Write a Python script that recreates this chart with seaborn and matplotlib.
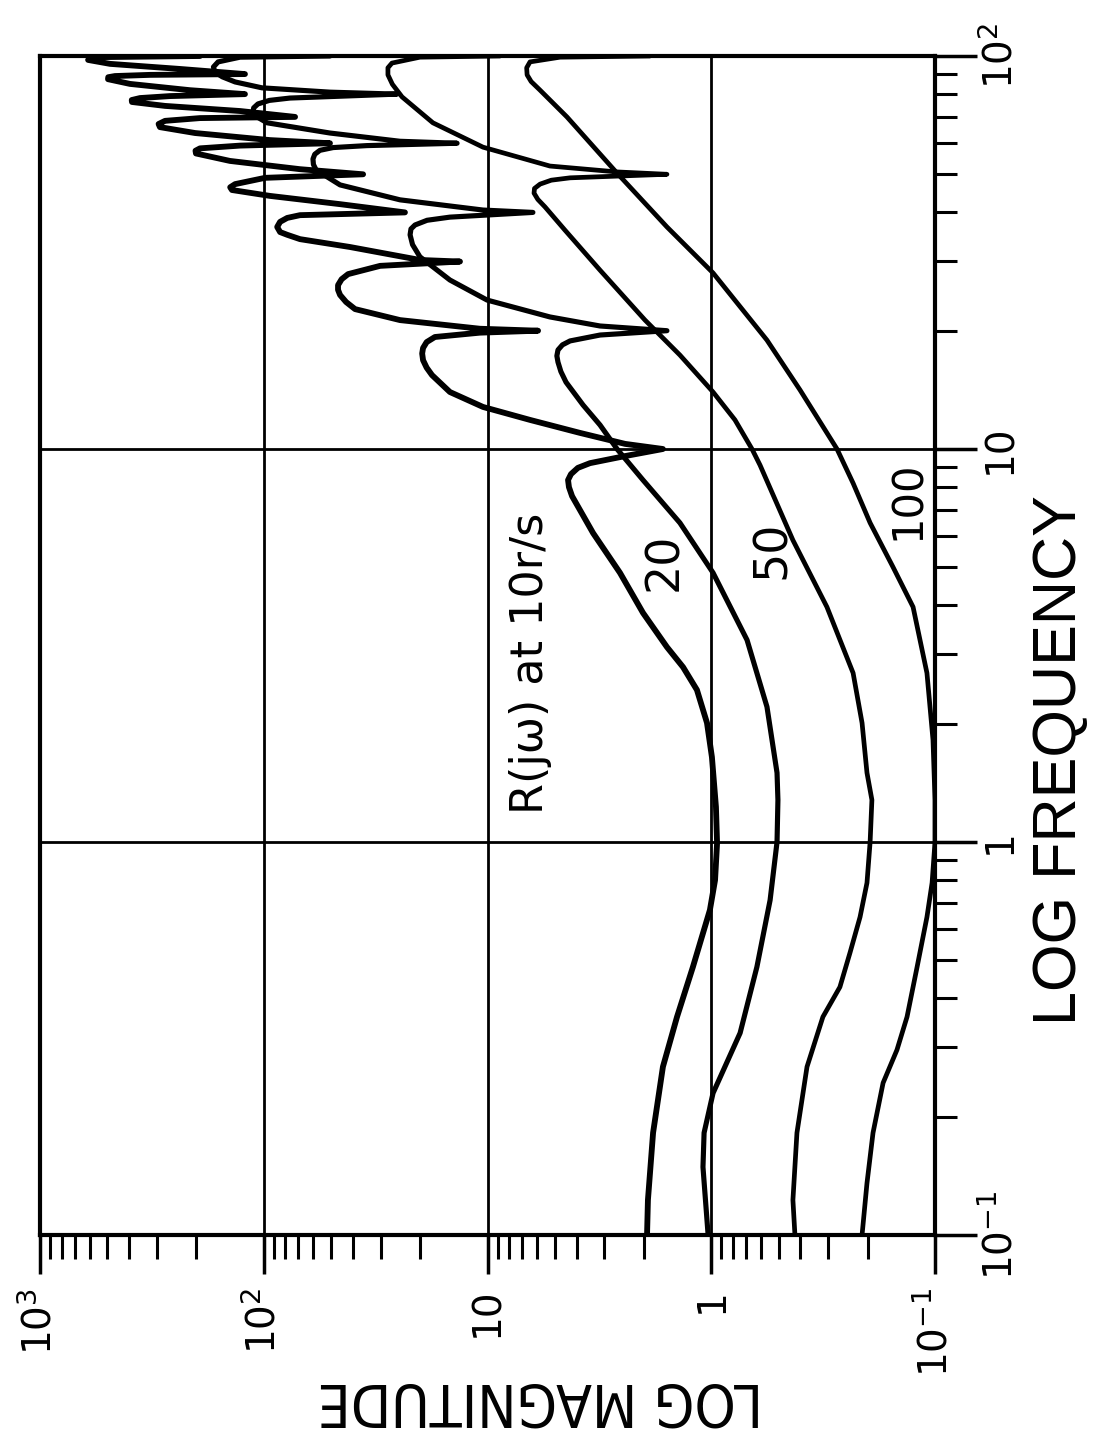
import numpy as np
import pandas as pd
import matplotlib
matplotlib.use("Agg")
import matplotlib.pyplot as plt
import seaborn as sns
from matplotlib.ticker import FixedLocator, LogLocator, NullFormatter

# ---------------- data (log10 values) ----------------
# curve A : notches every 10 r/s
a_logf = [-1.0, -0.911, -0.740, -0.572, -0.445, -0.318, -0.173, -0.097, -0.003, 0.089,
          0.216, 0.303, 0.387, 0.445, 0.496, 0.583, 0.685, 0.786, 0.858, 0.880,
          0.903, 0.921, 0.936, 0.952, 0.964, 0.982, 1.000,
          1.013, 1.041, 1.074, 1.107, 1.145, 1.188, 1.207, 1.226, 1.243, 1.257, 1.272,
          1.285, 1.296, 1.301,
          1.306, 1.328, 1.356, 1.374, 1.392, 1.405, 1.417, 1.432, 1.445, 1.466, 1.477,
          1.481, 1.514, 1.534, 1.545, 1.552, 1.565, 1.578, 1.588, 1.595, 1.602,
          1.623, 1.644, 1.659, 1.666, 1.674, 1.690, 1.699,
          1.712, 1.733, 1.752, 1.759, 1.765, 1.772, 1.778,
          1.786, 1.804, 1.819, 1.827, 1.835, 1.842, 1.845,
          1.860, 1.873, 1.883, 1.888, 1.893, 1.898, 1.903,
          1.913, 1.929, 1.941, 1.946, 1.949, 1.952, 1.954,
          1.967, 1.980, 1.990, 1.997, 2.0]
a_logm = [0.287, 0.283, 0.260, 0.216, 0.153, 0.082, 0.006, -0.017, -0.026, -0.021,
          -0.003, 0.019, 0.064, 0.126, 0.198, 0.305, 0.408, 0.528, 0.600, 0.622,
          0.636, 0.640, 0.627, 0.596, 0.542, 0.385, 0.216,
          0.385, 0.587, 0.810, 1.020, 1.168, 1.248, 1.272, 1.288, 1.292, 1.288, 1.272,
          1.235, 1.034, 0.774,
          1.034, 1.391, 1.592, 1.632, 1.659, 1.668, 1.668, 1.652, 1.623, 1.480, 1.123,
          1.302, 1.615, 1.838, 1.895, 1.927, 1.940, 1.927, 1.895, 1.838, 1.369,
          1.659, 1.972, 2.142, 2.150, 2.128, 1.994, 1.556,
          1.838, 2.151, 2.303, 2.305, 2.285, 2.106, 1.704,
          1.972, 2.307, 2.464, 2.470, 2.441, 2.285, 1.860,
          2.106, 2.441, 2.589, 2.590, 2.553, 2.419, 2.084,
          2.330, 2.598, 2.696, 2.695, 2.665, 2.508, 2.084,
          2.374, 2.687, 2.785, 2.754, 2.285]

# curve B : notches every 20 r/s
b_logf = [-1.0, -0.827, -0.740, -0.639, -0.486, -0.318, -0.148, 0.0, 0.107, 0.176,
          0.344, 0.514, 0.685, 0.812, 0.921, 1.0, 1.061, 1.112, 1.170, 1.197,
          1.221, 1.237, 1.252, 1.265, 1.275, 1.290, 1.301,
          1.313, 1.336, 1.379, 1.430, 1.489, 1.520, 1.545, 1.560, 1.570, 1.582, 1.590, 1.602,
          1.608, 1.634, 1.672, 1.710, 1.724, 1.738, 1.750, 1.760, 1.767, 1.772, 1.778,
          1.783, 1.804, 1.830, 1.845, 1.858, 1.868, 1.878, 1.887, 1.893, 1.903,
          1.908, 1.919, 1.934, 1.947, 1.959, 1.972, 1.985, 1.997, 2.0]
b_logm = [0.014, 0.037, 0.032, -0.008, -0.129, -0.204, -0.263, -0.294, -0.298, -0.294,
          -0.249, -0.160, -0.008, 0.140, 0.305, 0.421, 0.497, 0.573, 0.649, 0.672,
          0.685, 0.690, 0.685, 0.665, 0.631, 0.497, 0.198,
          0.497, 0.721, 1.002, 1.168, 1.302, 1.335, 1.346, 1.342, 1.324, 1.270, 1.168, 0.797,
          1.020, 1.391, 1.659, 1.766, 1.778, 1.780, 1.772, 1.749, 1.690, 1.539, 1.136,
          1.391, 1.704, 1.985, 2.030, 2.048, 2.045, 2.026, 1.975, 1.883, 1.404,
          1.704, 2.008, 2.128, 2.185, 2.218, 2.225, 2.204, 2.106, 1.704]

# curve C : notches every 50 r/s
c_logf = [-1.0, -0.911, -0.740, -0.572, -0.445, -0.369, -0.282, -0.191, -0.104, 0.0,
          0.107, 0.176, 0.303, 0.430, 0.598, 0.768, 0.959, 1.0, 1.074, 1.145,
          1.239, 1.328, 1.455, 1.557, 1.616, 1.635, 1.651, 1.663, 1.674, 1.684,
          1.690, 1.699,
          1.705, 1.720, 1.768, 1.830, 1.896, 1.928, 1.952, 1.970, 1.982, 1.997, 2.0]
c_logm = [-0.374, -0.365, -0.383, -0.428, -0.499, -0.575, -0.620, -0.665, -0.696, -0.710,
          -0.718, -0.696, -0.674, -0.634, -0.517, -0.365, -0.218, -0.182, -0.106, -0.008,
          0.140, 0.296, 0.497, 0.654, 0.743, 0.775, 0.792, 0.790, 0.765, 0.715,
          0.631, 0.198,
          0.421, 0.721, 1.020, 1.244, 1.382, 1.425, 1.445, 1.445, 1.427, 1.302, 0.944]

# curve D : notch at 100 r/s
d_logf = [-1.0, -0.868, -0.740, -0.613, -0.529, -0.445, -0.318, -0.191, -0.104, 0.0,
          0.107, 0.260, 0.430, 0.598, 0.700, 0.812, 0.913, 1.0, 1.150, 1.277,
          1.448, 1.565, 1.702, 1.845, 1.913, 1.935, 1.952, 1.970, 1.985, 1.997, 2.0]
d_logm = [-0.674, -0.696, -0.723, -0.768, -0.830, -0.875, -0.920, -0.964, -0.987, -1.0,
          -1.0, -0.991, -0.964, -0.902, -0.812, -0.710, -0.634, -0.562, -0.397, -0.249,
          -0.008, 0.198, 0.421, 0.645, 0.765, 0.805, 0.823, 0.825, 0.810, 0.676, 0.274]

mag_ticks = [1e3, 1e2, 1e1, 1.0, 1e-1]
mag_labels = [r"$10^3$", r"$10^2$", "10", "1", r"$10^{-1}$"]
freq_ticks = [1e-1, 1.0, 1e1, 1e2]
freq_labels = [r"$10^{-1}$", "1", "10", r"$10^2$"]
curve_labels = ["20", "50", "100"]
note_text = "R(jω) at 10r/s"

# ---------------- figure ----------------
sns.set_style("white", {"text.color": "black", "xtick.color": "black",
                        "ytick.color": "black", "axes.labelcolor": "black",
                        "axes.edgecolor": "black"})
plt.rcParams["font.family"] = ["DejaVu Sans"]
plt.rcParams["mathtext.fontset"] = "dejavusans"
plt.rcParams["text.color"] = "black"

W, H = 1093, 1446
fig = plt.figure(figsize=(W / 100, H / 100), dpi=100)
L, R, T, B = 40, 935, 56, 1235
ax = fig.add_axes([L / W, 1 - B / H, (R - L) / W, (B - T) / H])

frames = []
for name, lf, lm in [("A", a_logf, a_logm), ("B", b_logf, b_logm),
                     ("C", c_logf, c_logm), ("D", d_logf, d_logm)]:
    frames.append(pd.DataFrame({"curve": name,
                                "freq": np.power(10.0, lf),
                                "mag": np.power(10.0, lm)}))
df = pd.concat(frames, ignore_index=True)

for name, lw in [("A", 4.2), ("B", 3.7), ("C", 3.4), ("D", 3.4)]:
    sub = df[df.curve == name]
    sns.lineplot(data=sub, x="mag", y="freq", sort=False, estimator=None,
                 color="black", linewidth=lw, ax=ax, legend=False,
                 solid_joinstyle="round", solid_capstyle="round")

ax.set_xscale("log")
ax.set_yscale("log")
ax.set_xlim(1e3, 1e-1)
ax.set_ylim(1e-1, 1e2)
ax.set_xlabel("")
ax.set_ylabel("")

ax.grid(True, which="major", color="black", linewidth=2.0)
ax.grid(False, which="minor")
for sp in ax.spines.values():
    sp.set_linewidth(3.0)
    sp.set_color("black")

ax.xaxis.set_major_locator(FixedLocator(mag_ticks))
ax.xaxis.set_minor_locator(LogLocator(base=10, subs=range(2, 10), numticks=20))
ax.xaxis.set_minor_formatter(NullFormatter())
ax.set_xticklabels(mag_labels, rotation=90, fontsize=28, color="black")
ax.tick_params(axis="x", which="major", direction="out", length=28, width=2.5,
               bottom=True, top=False, pad=10, colors="black")
ax.tick_params(axis="x", which="minor", direction="out", length=17, width=2.2,
               bottom=True, top=False, colors="black")

ax.yaxis.tick_right()
ax.yaxis.set_major_locator(FixedLocator(freq_ticks))
ax.yaxis.set_minor_locator(LogLocator(base=10, subs=range(2, 10), numticks=20))
ax.yaxis.set_minor_formatter(NullFormatter())
ax.set_yticklabels(freq_labels, rotation=90, fontsize=28, va="center", color="black")
ax.tick_params(axis="y", which="major", direction="out", length=30, width=2.5,
               right=True, left=False, pad=3, colors="black")
ax.tick_params(axis="y", which="minor", direction="out", length=16, width=2.2,
               right=True, left=False, colors="black")

# annotations inside the plot (axes fraction)
ax.text(0.5475, 0.485, note_text, rotation=90, ha="center", va="center",
        fontsize=32, color="black", transform=ax.transAxes)
for lab, (px, py), fs in zip(curve_labels, [(0.698, 0.571), (0.818, 0.581), (0.970, 0.623)],
                             [33, 33, 30]):
    ax.text(px, py, lab, rotation=90, ha="center", va="center", fontsize=fs,
            color="black", transform=ax.transAxes)

fig.text(540 / W, 1 - 1400 / H, "LOG MAGNITUDE", rotation=180, ha="center", va="center",
         fontsize=42, family="DejaVu Sans", fontstretch="condensed", color="black")
fig.text(1061 / W, 1 - 760 / H, "LOG FREQUENCY", rotation=90, ha="center", va="center",
         fontsize=44, family=["Liberation Sans", "DejaVu Sans"], color="black")

fig.savefig("out.png", dpi=100, facecolor="white")
